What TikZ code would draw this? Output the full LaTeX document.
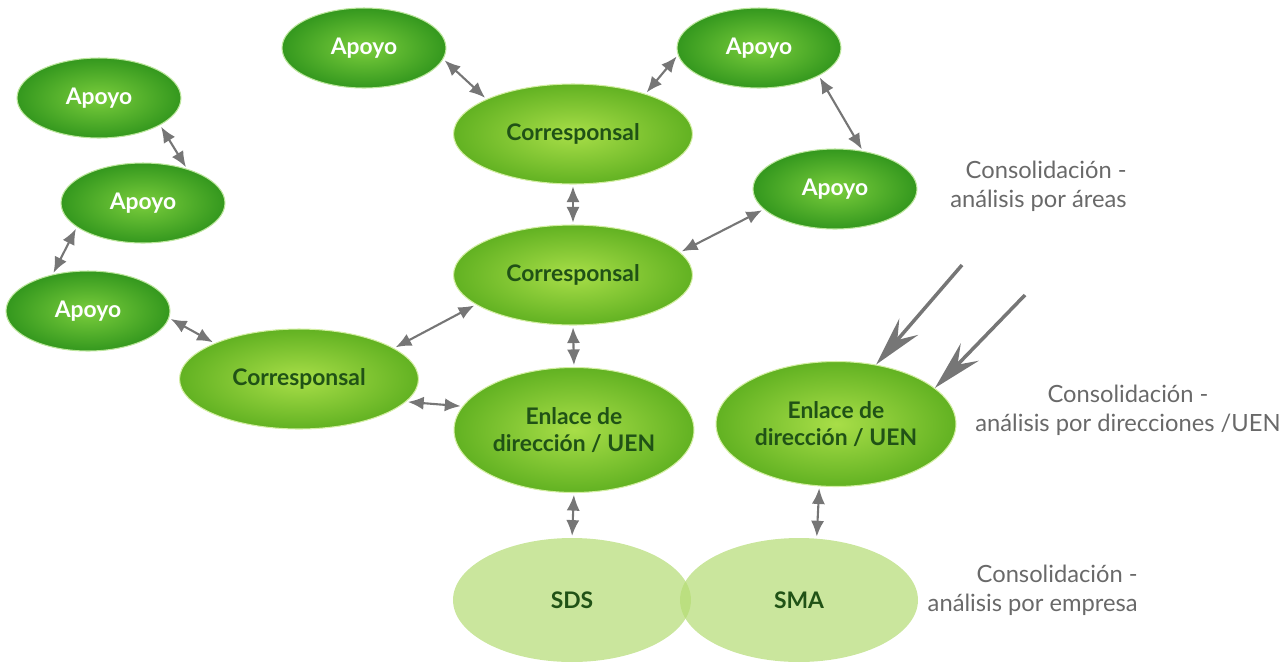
\documentclass[tikz,border=0pt]{standalone}
\usepackage{fontspec}
\setmainfont{Lato}
\usetikzlibrary{shapes.geometric,arrows.meta}

\definecolor{apoyoDark}{RGB}{52,152,30}
\definecolor{apoyoLight}{RGB}{122,205,60}
\definecolor{corrDark}{RGB}{98,178,34}
\definecolor{corrLight}{RGB}{168,222,72}
\definecolor{corrText}{RGB}{32,82,22}
\definecolor{paleGreen}{RGB}{180,220,115}
\definecolor{arrowGray}{RGB}{118,118,118}
\definecolor{labelGray}{RGB}{105,105,105}

\begin{document}
\begin{tikzpicture}[x=0.02cm, y=-0.02cm,
        every node/.style={ellipse, inner sep=0pt, align=center,
        font=\bfseries\fontsize{13}{15.5}\selectfont},
        apoyo/.style={minimum width=3.28cm, minimum height=1.6cm,
        shading=radial, inner color=apoyoLight, outer color=apoyoDark,
        draw=apoyoLight!50!white, line width=0.6pt, text=white},
        corr/.style={minimum width=4.78cm, minimum height=2cm,
        shading=radial, inner color=corrLight, outer color=corrDark,
        draw=corrLight!50!white, line width=0.6pt, text=corrText},
        enlace/.style={corr, minimum width=4.8cm, minimum height=2.5cm},
        empresa/.style={minimum width=4.76cm, minimum height=2.48cm,
        fill=paleGreen, fill opacity=0.7, text opacity=1, text=corrText},
        lbl/.style={rectangle, text=labelGray,
        font=\fontsize{13.5}{16.5}\selectfont},
        dbl/.style={{Latex[length=9pt,width=7.5pt]}-{Latex[length=9pt,width=7.5pt]},
        draw=arrowGray, line width=1.2pt, shorten <=1pt, shorten >=1pt},
        big/.style={-{Stealth[length=1cm, width=0.5cm, inset=0.35cm]},
        draw=arrowGray, line width=2pt}
        ]
    \useasboundingbox (0,0) rectangle (1282,664);

    % left chain
    \node[apoyo] (apoyoA) at (99,98) {Apoyo};
    \node[apoyo] (apoyoB) at (143,203) {Apoyo};
    \node[apoyo] (apoyoC) at (88,311) {Apoyo};
    \node[corr] (corrIzq) at (299,379) {Corresponsal};

    % center column
    \node[apoyo] (apoyoD) at (364,48) {Apoyo};
    \node[apoyo] (apoyoE) at (759,48) {Apoyo};
    \node[corr] (corrSup) at (573,134) {Corresponsal};
    \node[apoyo] (apoyoF) at (835,189) {Apoyo};
    \node[corr] (corrMed) at (573,275) {Corresponsal};
    \node[enlace] (enlaceIzq) at (574,430) {Enlace de\\direcci\'on / UEN};
    \node[enlace] (enlaceDer) at (836,424) {Enlace de\\direcci\'on / UEN};

    % empresas
    \node[empresa] (sds) at (572,600) {SDS};
    \node[empresa] (sma) at (799,600) {SMA};

    % labels
    \node[lbl, anchor=east, align=right] (lblAreas) at (1127,186)
        {Consolidación -\\análisis por áreas};
    \node[lbl] (lblDirecciones) at (1128,410)
        {Consolidación -\\análisis por direcciones /UEN};
    \node[lbl, anchor=east, align=right] (lblEmpresa) at (1138,590)
        {Consolidación -\\análisis por empresa};

    \draw [dbl] (apoyoA.-24) -- (apoyoB.38);
    \draw [dbl] (apoyoB.-160) -- (apoyoC.134);
    \draw [dbl] (apoyoC.-5) -- (corrIzq.157);
    \draw [dbl] (corrIzq.18) -- (corrMed.-163);
    \draw [dbl] (corrIzq.-12) -- (enlaceIzq.168);
    \draw [dbl] (apoyoD.-8) -- (corrSup.158);
    \draw [dbl] (apoyoE.-175) -- (corrSup.29);
    \draw [dbl] (apoyoE.-25) -- (apoyoF.54);
    \draw [dbl] (corrSup.south) -- (corrMed.north);
    \draw [dbl] (corrMed.12) -- (apoyoF.-164);
    \draw [dbl] (corrMed.south) -- (enlaceIzq.north);
    \draw [dbl] (enlaceIzq.south) -- (sds.north);
    \draw [dbl] (enlaceDer.-105) -- (sma.74);

    \coordinate (tailA) at (962,265);
    \coordinate (tailB) at (1025,295);
    \draw [big] (tailA) -- (enlaceDer.56);
    \draw [big] (tailB) -- (enlaceDer.20);
\end{tikzpicture}
\end{document}
